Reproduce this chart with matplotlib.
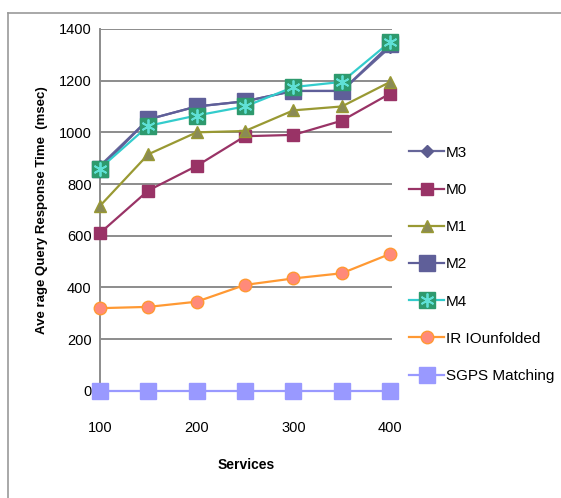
import matplotlib
matplotlib.use('Agg')
import matplotlib.pyplot as plt
from matplotlib.lines import Line2D
from matplotlib.legend_handler import HandlerTuple

plt.rcParams['font.family'] = ['Liberation Sans', 'DejaVu Sans']

services = [100, 150, 200, 250, 300, 350, 400]
m3 = [870, 1050, 1100, 1120, 1160, 1160, 1330]
m0 = [610, 775, 870, 985, 990, 1045, 1150]
m1 = [715, 915, 1000, 1005, 1085, 1100, 1195]
m2 = [860, 1050, 1100, 1120, 1160, 1160, 1340]
m4 = [860, 1025, 1065, 1100, 1175, 1195, 1350]
iri = [320, 325, 345, 410, 435, 455, 530]
sgps = [0, 0, 0, 0, 0, 0, 0]
y_ticks = [0, 200, 400, 600, 800, 1000, 1200, 1400]
x_ticks = [100, 200, 300, 400]

fig = plt.figure(figsize=(5.61, 4.98), dpi=100)
ax = fig.add_axes([0.178, 0.215, 0.521, 0.727])

# outer frame (only left and top visible)
fig.add_artist(Line2D([0.0143, 0.0143], [0, 0.974], color='#999999', lw=1.2))
fig.add_artist(Line2D([0.0143, 1], [0.974, 0.974], color='#999999', lw=1.2))

for y in y_ticks[1:]:
    ax.axhline(y, color='#8c8c8c', lw=1.4, zorder=1)

kw = dict(lw=1.6, clip_on=False, zorder=3)
ax.plot(services, m3, color='#666699', marker='D', ms=6, mfc='#5c5c8f', mec='#5c5c8f', label='M3', **kw)
ax.plot(services, m0, color='#993366', marker='s', ms=8.5, mfc='#993366', mec='#993366', label='M0', **kw)
ax.plot(services, m1, color='#999933', marker='^', ms=9, mfc='#8a8a55', mec='#999933', label='M1', **kw)
ax.plot(services, m2, color='#5f5f99', marker='s', ms=11, mfc='#5f5f99', mec='#5f5f99', label='M2', **kw)
ax.plot(services, m4, color='#33cccc', marker='s', ms=11.5, mfc='#2e9a6e', mec='#2e9a6e', **kw)
ax.plot(services, m4, color='none', marker=(6, 2, 0), ms=10, mec='#5fe0d6', mew=1.3, clip_on=False, zorder=4)
ax.plot(services, iri, color='#ff9933', marker='o', ms=9, mfc='#ff8a7a', mec='#ff9933', label='IR IOunfolded', **kw)
ax.plot(services, sgps, color='#9999ff', marker='s', ms=11.5, mfc='#9999ff', mec='#9999ff', label='SGPS Matching', **kw)

h, l = ax.get_legend_handles_labels()
m4_handle = (Line2D([], [], color='#33cccc', marker='s', ms=11.5, mfc='#2e9a6e', mec='#2e9a6e', lw=1.6),
             Line2D([], [], color='none', marker=(6, 2, 0), ms=10, mec='#5fe0d6', mew=1.3))
h.insert(4, m4_handle)
l.insert(4, 'M4')
fig.legend(h, l, loc='upper left', bbox_to_anchor=(0.705, 0.735), frameon=False,
           fontsize=11, labelspacing=1.52, handlelength=2.3, handletextpad=0.1,
           handler_map={tuple: HandlerTuple(ndivide=1, pad=0)})

ax.set_xlim(100, 402)
ax.set_ylim(0, 1400)
ax.set_xticks(x_ticks)
ax.set_yticks(y_ticks)
ax.tick_params(length=0, labelsize=10.5, pad=6)
ax.tick_params(axis='x', pad=22)
for s in ['top', 'right', 'bottom']:
    ax.spines[s].set_visible(False)
ax.spines['left'].set_color('#8c8c8c')
ax.spines['left'].set_linewidth(1.4)

ax.set_xlabel('Services', fontsize=10, fontweight='bold', labelpad=16)
ax.set_ylabel('Ave rage Query Response Time  (msec)', fontsize=9.5, fontweight='bold', labelpad=8)

fig.savefig('out.png', dpi=100)
